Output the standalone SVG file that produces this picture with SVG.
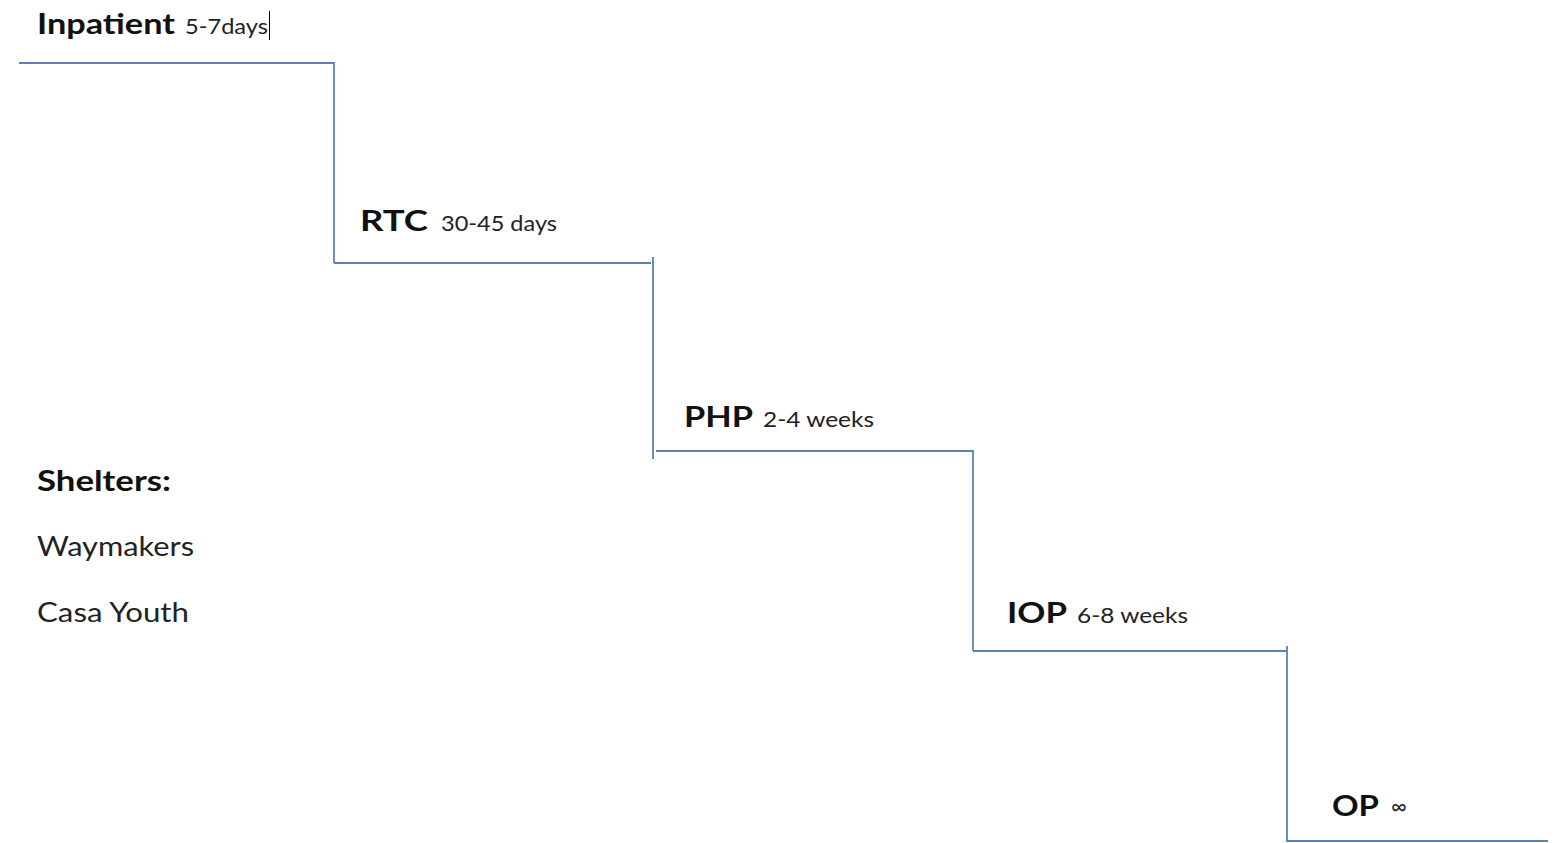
<svg xmlns="http://www.w3.org/2000/svg" width="1555" height="843" viewBox="0 0 1555 843">
<style>
  .b { font-family: Lato, "Open Sans", "Liberation Sans", sans-serif; font-weight: 700; font-size: 28px; fill: #111; }
  .r { font-family: Lato, "Open Sans", "Liberation Sans", sans-serif; font-weight: 400; font-size: 21.5px; fill: #222; }
  .m { font-family: Lato, "Open Sans", "Liberation Sans", sans-serif; font-weight: 400; font-size: 27px; fill: #222; }
  .step { fill: none; stroke: #5f7fb8; stroke-width: 1.8; }
</style>
<rect width="1555" height="843" fill="#ffffff"/>
<g id="connectors">
  <path class="step" d="M19,63 H334 V263"/>
  <path class="step" d="M334,263 H651"/>
  <path class="step" d="M653,257 V459"/>
  <path class="step" d="M656,451 H973 V651"/>
  <path class="step" d="M973,651 H1287"/>
  <path class="step" d="M1287,646 V841 H1548"/>
</g>
<g id="inpatient">
  <text x="37" y="34" class="b" textLength="138" lengthAdjust="spacingAndGlyphs">Inpatient</text>
  <text x="185" y="34" class="r" textLength="83" lengthAdjust="spacingAndGlyphs">5-7days</text>
  <line x1="269.5" y1="11" x2="269.5" y2="40" stroke="#000" stroke-width="1"/>
</g>
<g id="rtc">
  <text x="360" y="231" class="b" textLength="68" lengthAdjust="spacingAndGlyphs">RTC</text>
  <text x="441" y="231" class="r" textLength="116" lengthAdjust="spacingAndGlyphs">30-45 days</text>
</g>
<g id="php">
  <text x="684" y="427" class="b" textLength="69" lengthAdjust="spacingAndGlyphs">PHP</text>
  <text x="763" y="427" class="r" textLength="111" lengthAdjust="spacingAndGlyphs">2-4 weeks</text>
</g>
<g id="iop">
  <text x="1007" y="623" class="b" textLength="60" lengthAdjust="spacingAndGlyphs">IOP</text>
  <text x="1077" y="623" class="r" textLength="111" lengthAdjust="spacingAndGlyphs">6-8 weeks</text>
</g>
<g id="op">
  <text x="1332" y="816" class="b" textLength="47" lengthAdjust="spacingAndGlyphs">OP</text>
  <text x="1391" y="814" class="r" font-size="17">∞</text>
</g>
<g id="shelters">
  <text x="37" y="491" class="b" textLength="134" lengthAdjust="spacingAndGlyphs">Shelters:</text>
  <text x="37" y="556" class="m" textLength="157" lengthAdjust="spacingAndGlyphs">Waymakers</text>
  <text x="37" y="622" class="m" textLength="152" lengthAdjust="spacingAndGlyphs">Casa Youth</text>
</g>
</svg>
